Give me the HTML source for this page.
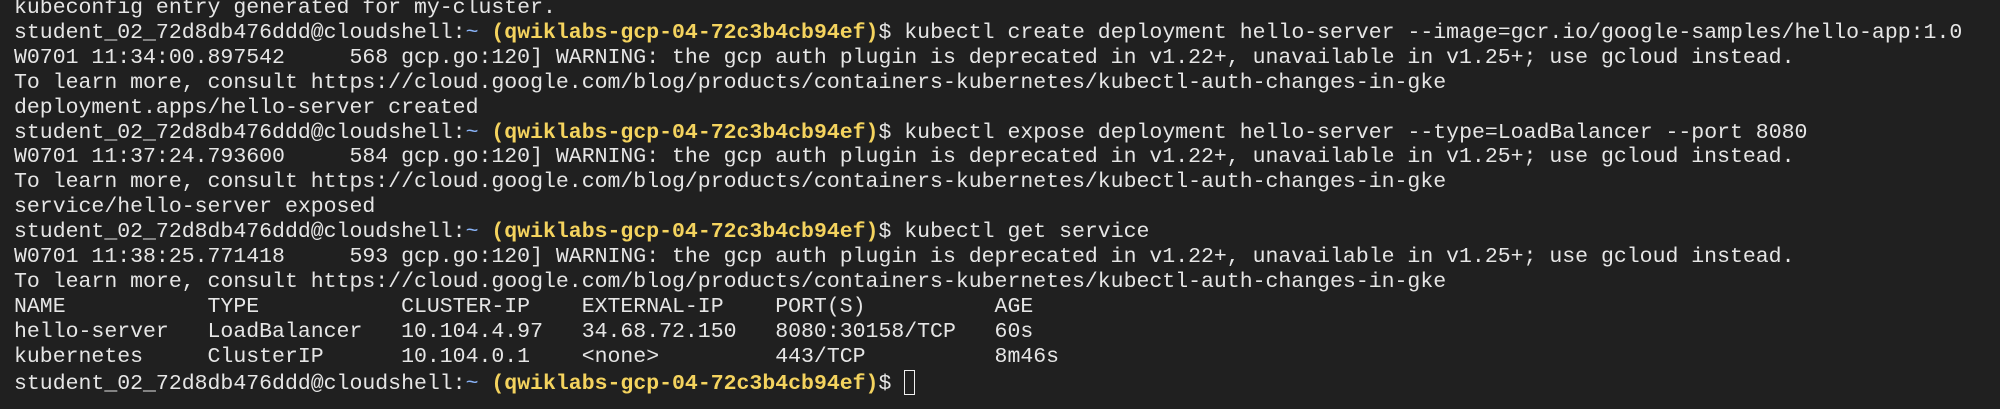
<!DOCTYPE html>
<html><head><meta charset="utf-8"><style>
html,body{margin:0;padding:0;background:#202020;}
body{width:2000px;height:409px;overflow:hidden;position:relative;}
pre{margin:0;position:absolute;left:14px;top:-4px;font-family:"Liberation Mono",monospace;font-size:21.5px;line-height:24.9px;color:#e6e6e6;white-space:pre;}
.t{color:#8ab4f8;}
.y{color:#f4d35e;font-weight:bold;}
.c{display:inline-block;width:11px;height:25px;border:1.5px solid #f0f0f0;vertical-align:-6px;box-sizing:border-box;}
</style></head><body><pre>kubeconfig entry generated for my-cluster.
student_02_72d8db476ddd@cloudshell:<span class="t">~</span> <span class="y">(qwiklabs-gcp-04-72c3b4cb94ef)</span>$ kubectl create deployment hello-server --image=gcr.io/google-samples/hello-app:1.0
W0701 11:34:00.897542     568 gcp.go:120] WARNING: the gcp auth plugin is deprecated in v1.22+, unavailable in v1.25+; use gcloud instead.
To learn more, consult https://cloud.google.com/blog/products/containers-kubernetes/kubectl-auth-changes-in-gke
deployment.apps/hello-server created
student_02_72d8db476ddd@cloudshell:<span class="t">~</span> <span class="y">(qwiklabs-gcp-04-72c3b4cb94ef)</span>$ kubectl expose deployment hello-server --type=LoadBalancer --port 8080
W0701 11:37:24.793600     584 gcp.go:120] WARNING: the gcp auth plugin is deprecated in v1.22+, unavailable in v1.25+; use gcloud instead.
To learn more, consult https://cloud.google.com/blog/products/containers-kubernetes/kubectl-auth-changes-in-gke
service/hello-server exposed
student_02_72d8db476ddd@cloudshell:<span class="t">~</span> <span class="y">(qwiklabs-gcp-04-72c3b4cb94ef)</span>$ kubectl get service
W0701 11:38:25.771418     593 gcp.go:120] WARNING: the gcp auth plugin is deprecated in v1.22+, unavailable in v1.25+; use gcloud instead.
To learn more, consult https://cloud.google.com/blog/products/containers-kubernetes/kubectl-auth-changes-in-gke
NAME           TYPE           CLUSTER-IP    EXTERNAL-IP    PORT(S)          AGE
hello-server   LoadBalancer   10.104.4.97   34.68.72.150   8080:30158/TCP   60s
kubernetes     ClusterIP      10.104.0.1    &lt;none&gt;         443/TCP          8m46s
student_02_72d8db476ddd@cloudshell:<span class="t">~</span> <span class="y">(qwiklabs-gcp-04-72c3b4cb94ef)</span>$ <span class="c"></span></pre>
</body></html>
